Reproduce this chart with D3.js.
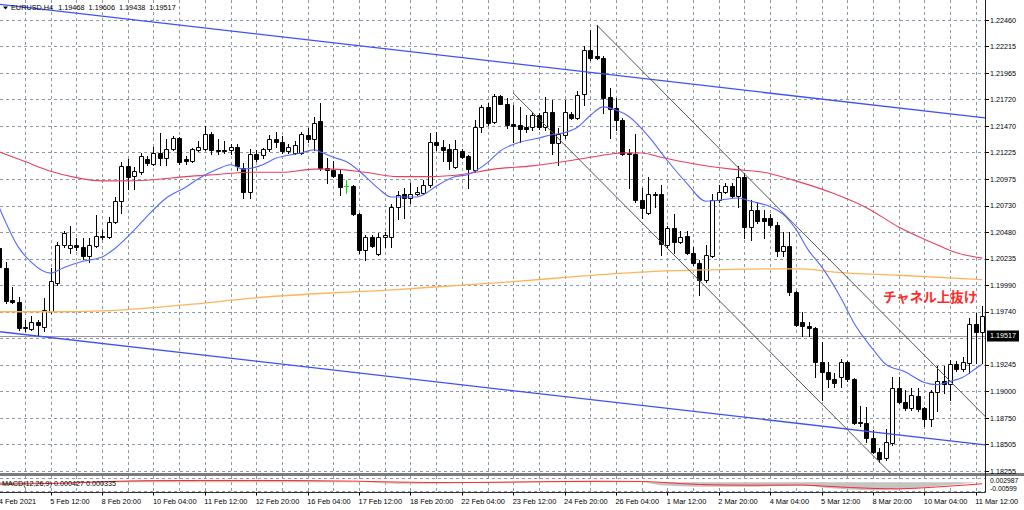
<!DOCTYPE html>
<html>
<head>
<meta charset="utf-8">
<script src="https://cdn.jsdelivr.net/npm/d3@7/dist/d3.min.js"></script>
<style>
html,body{margin:0;padding:0;background:#fff;}
svg{display:block;}
</style>
</head>
<body>
<svg id="chart" width="1024" height="510"></svg>
<script>
// ---------------- DATA ----------------
const symbolTitle = "EURUSD,H4";
const lastBar = [1.19468, 1.19606, 1.19438, 1.19517]; // O H L C shown in header
const bidPrice = 1.19517;
const macdTitle = "MACD(12,26,9) 0.000427 0.000335";
const noteText = "チャネル上抜け";

const timeLabels = ["4 Feb 2021","5 Feb 12:00","8 Feb 20:00","10 Feb 04:00","11 Feb 12:00","12 Feb 20:00",
  "16 Feb 04:00","17 Feb 12:00","18 Feb 20:00","22 Feb 04:00","23 Feb 12:00","24 Feb 20:00","26 Feb 04:00",
  "1 Mar 12:00","2 Mar 20:00","4 Mar 04:00","5 Mar 12:00","8 Mar 20:00","10 Mar 04:00","11 Mar 12:00"];
const barsPerLabel = 8;

const priceTicks = [1.22460,1.22215,1.21965,1.21720,1.21470,1.21225,1.20975,1.20730,1.20480,1.20235,
  1.19990,1.19740,1.19245,1.19000,1.18750,1.18505,1.18255];
const hiddenGridPrices = [1.19495];
const macdTicks = [0.002987, -0.00599];

const opens = [1.2033,1.2015,1.1985,1.1983,1.1960,1.1958,1.1964,1.1960,1.1975,1.2001,
1.2036,1.2033,1.2036,1.2034,1.2026,1.2035,1.2045,1.2044,1.2058,1.2077,
1.2110,1.2101,1.2104,1.2116,1.2112,1.2122,1.2117,1.2126,1.2136,1.2116,
1.2115,1.2125,1.2126,1.2140,1.2125,1.2125,1.2125,1.2128,1.2108,1.2086,
1.2121,1.2120,1.2126,1.2135,1.2132,1.2124,1.2122,1.2122,1.2139,1.2135,
1.2152,1.2108,1.2106,1.2102,1.2091,1.2091,1.2065,1.2032,1.2044,1.2028,
1.2044,1.2044,1.2072,1.2084,1.2080,1.2084,1.2085,1.2092,1.2132,1.2128,
1.2126,1.2109,1.2124,1.2119,1.2106,1.2146,1.2165,1.2151,1.2175,1.2168,
1.2149,1.2148,1.2146,1.2146,1.2157,1.2146,1.2160,1.2131,1.2139,1.2158,
1.2155,1.2177,1.2218,1.2212,1.2211,1.2174,1.2164,1.2153,1.2122,1.2121,
1.2078,1.2066,1.2084,1.2084,1.2036,1.2052,1.2039,1.2045,1.2029,1.2019,
1.2004,1.2026,1.2078,1.2086,1.2091,1.2082,1.2100,1.2053,1.2069,1.2061,
1.2061,1.2055,1.2031,1.2035,1.1992,1.1964,1.1961,1.1959,1.1927,1.1918,
1.1911,1.1913,1.1927,1.1911,1.1871,1.1870,1.1856,1.1843,1.1838,1.1852,
1.1903,1.1890,1.1884,1.1895,1.1884,1.1874,1.1899,1.1909,1.1907,1.1925,
1.1921,1.1926,1.1963,1.1955];
const highs = [1.2041,1.2020,1.1997,1.1988,1.1966,1.1970,1.1966,1.1987,1.2015,1.2039,
1.2049,1.2054,1.2043,1.2043,1.2043,1.2064,1.2050,1.2062,1.2081,1.2114,
1.2116,1.2109,1.2122,1.2119,1.2128,1.2141,1.2135,1.2138,1.2137,1.2119,
1.2127,1.2133,1.2147,1.2142,1.2135,1.2133,1.2130,1.2130,1.2113,1.2126,
1.2125,1.2127,1.2139,1.2142,1.2138,1.2130,1.2133,1.2142,1.2145,1.2156,
1.2169,1.2117,1.2115,1.2106,1.2097,1.2092,1.2066,1.2046,1.2046,1.2047,
1.2048,1.2074,1.2087,1.2089,1.2094,1.2090,1.2097,1.2141,1.2142,1.2134,
1.2130,1.2134,1.2126,1.2120,1.2153,1.2167,1.2169,1.2177,1.2176,1.2173,
1.2167,1.2165,1.2157,1.2159,1.2159,1.2174,1.2171,1.2145,1.2171,1.2160,
1.2180,1.2222,1.2237,1.2241,1.2212,1.2183,1.2173,1.2155,1.2126,1.2140,
1.2089,1.2100,1.2086,1.2092,1.2054,1.2065,1.2049,1.2049,1.2034,1.2022,
1.2036,1.2084,1.2092,1.2094,1.2094,1.2110,1.2103,1.2078,1.2076,1.2069,
1.2065,1.2058,1.2048,1.2048,1.1993,1.1974,1.1964,1.1960,1.1946,1.1927,
1.1917,1.1930,1.1928,1.1912,1.1886,1.1885,1.1864,1.1847,1.1865,1.1913,
1.1913,1.1901,1.1903,1.1903,1.1885,1.1901,1.1923,1.1923,1.1929,1.1928,
1.1932,1.1968,1.1973,1.1979];
const lows = [1.2014,1.1982,1.1982,1.1957,1.1956,1.1957,1.1951,1.1956,1.1973,1.1999,
1.2034,1.2029,1.2032,1.2023,1.2020,1.2034,1.2042,1.2043,1.2057,1.2066,
1.2088,1.2088,1.2102,1.2111,1.2111,1.2111,1.2111,1.2125,1.2112,1.2112,
1.2114,1.2124,1.2125,1.2121,1.2121,1.2122,1.2121,1.2106,1.2080,1.2080,
1.2115,1.2117,1.2124,1.2128,1.2122,1.2122,1.2121,1.2121,1.2132,1.2125,
1.2106,1.2094,1.2100,1.2083,1.2085,1.2064,1.2029,1.2022,1.2034,1.2027,
1.2034,1.2034,1.2060,1.2061,1.2075,1.2083,1.2084,1.2090,1.2125,1.2115,
1.2107,1.2108,1.2117,1.2089,1.2104,1.2142,1.2148,1.2150,1.2168,1.2145,
1.2132,1.2132,1.2142,1.2143,1.2144,1.2143,1.2121,1.2111,1.2136,1.2154,
1.2154,1.2167,1.2209,1.2210,1.2159,1.2136,1.2143,1.2120,1.2089,1.2076,
1.2061,1.2065,1.2072,1.2027,1.2034,1.2029,1.2038,1.2028,1.2018,1.1990,
1.2002,1.2025,1.2076,1.2085,1.2081,1.2072,1.2043,1.2041,1.2057,1.2043,
1.2053,1.2026,1.2026,1.1990,1.1961,1.1951,1.1951,1.1913,1.1892,1.1904,
1.1904,1.1904,1.1909,1.1869,1.1867,1.1853,1.1842,1.1834,1.1836,1.1850,
1.1889,1.1882,1.1882,1.1881,1.1867,1.1867,1.1881,1.1898,1.1892,1.1919,
1.1919,1.1917,1.1926,1.1926];
const closes = [1.2016,1.1984,1.1983,1.1959,1.1959,1.1964,1.1962,1.1976,1.2003,1.2036,
1.2047,1.2036,1.2034,1.2026,1.2036,1.2045,1.2044,1.2058,1.2077,1.2110,
1.2100,1.2105,1.2119,1.2113,1.2122,1.2117,1.2126,1.2136,1.2114,1.2115,
1.2126,1.2128,1.2140,1.2125,1.2124,1.2124,1.2128,1.2110,1.2086,1.2121,
1.2116,1.2126,1.2135,1.2132,1.2124,1.2128,1.2129,1.2140,1.2135,1.2150,
1.2108,1.2106,1.2101,1.2090,1.2091,1.2065,1.2032,1.2044,1.2035,1.2044,
1.2046,1.2072,1.2083,1.2080,1.2084,1.2086,1.2092,1.2132,1.2129,1.2125,
1.2115,1.2126,1.2118,1.2107,1.2146,1.2165,1.2150,1.2175,1.2168,1.2148,
1.2147,1.2144,1.2144,1.2157,1.2146,1.2160,1.2131,1.2140,1.2160,1.2155,
1.2176,1.2218,1.2211,1.2211,1.2173,1.2163,1.2153,1.2121,1.2121,1.2078,
1.2071,1.2084,1.2083,1.2037,1.2052,1.2039,1.2044,1.2029,1.2019,1.2004,
1.2027,1.2078,1.2086,1.2091,1.2082,1.2100,1.2053,1.2069,1.2059,1.2059,
1.2055,1.2031,1.2035,1.1992,1.1962,1.1961,1.1959,1.1927,1.1918,1.1911,
1.1908,1.1927,1.1911,1.1870,1.1870,1.1856,1.1843,1.1837,1.1853,1.1903,
1.1890,1.1884,1.1896,1.1883,1.1874,1.1899,1.1909,1.1907,1.1925,1.1921,
1.1927,1.1963,1.1955,1.1970];

// moving averages (bar index, price)
const maFastBars = [0,3,5,8,10,13,16,18,21,23,26,29,31,34,36,38,41,43,47,49,50,52,54,57,59,61,65,66,68,71,73,76,78,80,84,86,88,90,92,94,96,98,101,104,107,110,112,115,117,120,122,124,126,128,131,133,136,138,141,144,146,148,150,152,153];
const maFastVals = [1.2071,1.2034,1.2020,1.2010,1.2015,1.2021,1.2025,1.2033,1.2050,1.2063,1.2080,1.2090,1.2098,1.2107,1.2111,1.2107,1.2111,1.2117,1.2122,1.2125,1.2123,1.2118,1.2114,1.2100,1.2089,1.2081,1.2081,1.2083,1.2091,1.2100,1.2102,1.2113,1.2124,1.2130,1.2136,1.2139,1.2141,1.2146,1.2157,1.2165,1.2162,1.2156,1.2138,1.2115,1.2094,1.2077,1.2078,1.2080,1.2077,1.2072,1.2065,1.2051,1.2031,1.2016,1.1987,1.1964,1.1939,1.1925,1.1918,1.1908,1.1906,1.1909,1.1913,1.1921,1.1925];
const maMidBars = [0,4,8,12,16,20,24,29,34,39,44,49,52,57,62,67,72,77,83,88,93,97,100,103,108,114,119,124,130,135,140,145,149,153];
const maMidVals = [1.2123,1.2114,1.2105,1.2099,1.2096,1.2096,1.2097,1.2100,1.2102,1.2104,1.2104,1.2107,1.2107,1.2104,1.2100,1.2100,1.2102,1.2107,1.2110,1.2114,1.2119,1.2122,1.2122,1.2118,1.2112,1.2107,1.2104,1.2096,1.2084,1.2071,1.2053,1.2039,1.2029,1.2024];
const maSlowBars = [0,10,20,30,40,50,60,70,80,90,100,110,120,125,130,140,153];
const maSlowVals = [1.1974,1.1974,1.1976,1.1981,1.1987,1.1991,1.1994,1.1998,1.2002,1.2007,1.2011,1.2013,1.2014,1.2014,1.2011,1.2008,1.2004];

// trend lines: [bar, price] anchor pairs
const blueUpperLine = [[0,1.22606],[153,1.21550]];
const blueLowerLine = [[0,1.19554],[153,1.18502]];
const chanUpperLine = [[93,1.22413],[153,1.18792]];
const chanLowerLine = [[80,1.21779],[137,1.18340]];

// MACD (sparse readings)
const macdBars   = [0,8,16,23,31,39,47,55,62,70,78,86,94,100,103,109,117,125,129,136,140,145,150,153];
const macdHist   = [-0.0020,-0.0002,0.0010,0.0015,0.0016,0.0015,0.0012,0.0004,-0.0010,-0.0006,0.0005,0.0010,0.0011,0.0000,-0.0020,-0.0030,-0.0030,-0.0022,-0.0040,-0.0055,-0.0050,-0.0030,-0.0010,0.0004];
const macdSignal = [-0.0012,-0.0008,0.0003,0.0011,0.0013,0.0013,0.0012,0.0008,0.0002,-0.0002,0.0000,0.0005,0.0007,0.0006,0.0000,-0.0015,-0.0020,-0.0019,-0.0028,-0.0042,-0.0045,-0.0035,-0.0020,-0.0010];

// ---------------- DRAW ----------------
const FONT = "'Liberation Sans', Arial, sans-serif";
const svg = d3.select("#chart");
const plotRight = 985, mainBottom = 473, macdTop = 476, macdBottom = 492.5;
const n = opens.length;
const x = d3.scaleLinear().domain([0, 152]).range([-0.7, 975.7]);
const y = d3.scaleLinear().domain([1.18255, 1.22460]).range([471, 20]);
const ym = d3.scaleLinear().domain([-0.00599, 0.002987]).range([491, 478]);
const px = v => Math.round(v) + 0.5;

svg.append("rect").attr("width",1024).attr("height",510).attr("fill","#fff");
const defs = svg.append("defs");
defs.append("clipPath").attr("id","clipMain").append("rect")
  .attr("x",0).attr("y",0).attr("width",plotRight).attr("height",mainBottom);
defs.append("clipPath").attr("id","clipMacd").append("rect")
  .attr("x",0).attr("y",macdTop).attr("width",plotRight).attr("height",macdBottom-macdTop);

// grid
const gridColor = "#8d99a6";
const grid = svg.append("g").attr("stroke", gridColor).attr("stroke-width",1).attr("stroke-dasharray","3,3");
const vBars = d3.range(4, n, 4);
grid.selectAll("line.v").data(vBars).join("line").attr("class","v")
  .attr("x1",d=>px(x(d))).attr("x2",d=>px(x(d))).attr("y1",0).attr("y2",mainBottom);
grid.selectAll("line.vm").data(vBars).join("line").attr("class","vm")
  .attr("x1",d=>px(x(d))).attr("x2",d=>px(x(d))).attr("y1",macdTop).attr("y2",macdBottom);
grid.selectAll("line.h").data(priceTicks.concat(hiddenGridPrices)).join("line").attr("class","h")
  .attr("x1",0).attr("x2",plotRight).attr("y1",d=>px(y(d))).attr("y2",d=>px(y(d)));
grid.selectAll("line.hm").data(macdTicks).join("line").attr("class","hm")
  .attr("x1",0).attr("x2",plotRight).attr("y1",d=>px(ym(d))).attr("y2",d=>px(ym(d)));

// bid line
svg.append("line").attr("x1",0).attr("x2",plotRight)
  .attr("y1",px(y(bidPrice))).attr("y2",px(y(bidPrice)))
  .attr("stroke","#9a9a9a").attr("stroke-width",1);

// candles
const cg = svg.append("g").attr("clip-path","url(#clipMain)");
const idx = d3.range(n);
cg.selectAll("line.wick").data(idx).join("line").attr("class","wick")
  .attr("x1",i=>px(x(i))).attr("x2",i=>px(x(i)))
  .attr("y1",i=>Math.round(y(highs[i]))).attr("y2",i=>Math.round(y(lows[i]))+1)
  .attr("stroke",i=>opens[i]===closes[i] ? "#00e000" : "#000").attr("stroke-width",1);
cg.selectAll("path.body").data(idx).join("path").attr("class","body")
  .attr("d", i => {
    const c = Math.round(x(i));
    const top = Math.round(y(Math.max(opens[i],closes[i]))) + 0.5;
    const bot = Math.round(y(Math.min(opens[i],closes[i]))) + 0.5;
    if (opens[i] === closes[i]) return `M${c-2},${top}H${c+3}`;
    return `M${c-1.5},${top}H${c+2.5}V${bot}H${c-1.5}Z`;
  })
  .attr("fill", i => closes[i] > opens[i] ? "#fff" : (closes[i] < opens[i] ? "#000" : "none"))
  .attr("stroke", i => opens[i]===closes[i] ? "#00e000" : "#000").attr("stroke-width",1);

// moving averages
const lineGen = d3.line().x(d=>x(d[0])).y(d=>y(d[1])).curve(d3.curveMonotoneX);
const ma = svg.append("g").attr("clip-path","url(#clipMain)").attr("fill","none");
ma.append("path").attr("d", lineGen(maSlowBars.map((b,k)=>[b,maSlowVals[k]])))
  .attr("stroke","#ffb45a").attr("stroke-width",1.3);
ma.append("path").attr("d", lineGen(maMidBars.map((b,k)=>[b,maMidVals[k]])))
  .attr("stroke","#e8405e").attr("stroke-width",1.1);
ma.append("path").attr("d", lineGen(maFastBars.map((b,k)=>[b,maFastVals[k]])))
  .attr("stroke","#5468ff").attr("stroke-width",1.1);

// trend lines (rays extended across the plot)
function extend(line, b0, b1) {
  const [[xa,pa],[xb,pb]] = line;
  const s = (pb-pa)/(xb-xa);
  return [[b0, pa + s*(b0-xa)], [b1, pa + s*(b1-xa)]];
}
const tl = svg.append("g").attr("clip-path","url(#clipMain)").attr("fill","none");
const straight = d3.line().x(d=>x(d[0])).y(d=>y(d[1]));
tl.append("path").attr("d", straight(extend(blueUpperLine,-2,156))).attr("stroke","#3f51f5").attr("stroke-width",1.3);
tl.append("path").attr("d", straight(extend(blueLowerLine,-2,156))).attr("stroke","#3f51f5").attr("stroke-width",1.3);
tl.append("path").attr("d", straight(extend(chanUpperLine,chanUpperLine[0][0],160))).attr("stroke","#555").attr("stroke-width",1);
tl.append("path").attr("d", straight(extend(chanLowerLine,chanLowerLine[0][0],165))).attr("stroke","#555").attr("stroke-width",1);

// separator and frames
svg.append("rect").attr("x",0).attr("y",473).attr("width",1024).attr("height",3).attr("fill","#7c7c7c");
svg.append("line").attr("x1",0).attr("x2",plotRight+0.5).attr("y1",macdBottom).attr("y2",macdBottom).attr("stroke","#333");
svg.append("line").attr("x1",plotRight+0.5).attr("x2",plotRight+0.5).attr("y1",0).attr("y2",macdBottom).attr("stroke","#222");

// MACD
const mg = svg.append("g").attr("clip-path","url(#clipMacd)");
const macdPts = macdBars.map((b,k)=>[b, macdHist[k]]);
mg.append("path").attr("d", d3.area().x(d=>x(d[0])).y0(ym(0)).y1(d=>ym(d[1])).curve(d3.curveMonotoneX)(macdPts))
  .attr("fill","#c4c4c4");
mg.append("path").attr("d", d3.line().x(d=>x(d[0])).y(d=>ym(d[1])).curve(d3.curveMonotoneX)(macdBars.map((b,k)=>[b,macdSignal[k]])))
  .attr("fill","none").attr("stroke","#ff2a2a").attr("stroke-width",1);

// price axis labels
const ax = svg.append("g").attr("font-family",FONT).attr("font-size","7.2px").attr("fill","#000");
ax.selectAll("line.tk").data(priceTicks).join("line").attr("class","tk")
  .attr("x1",plotRight+1).attr("x2",plotRight+4).attr("y1",d=>px(y(d))).attr("y2",d=>px(y(d))).attr("stroke","#000");
ax.selectAll("text.pl").data(priceTicks).join("text").attr("class","pl")
  .attr("x",990).attr("y",d=>y(d)+2.6).text(d=>d.toFixed(5));
ax.selectAll("text.ml").data(macdTicks).join("text").attr("class","ml")
  .attr("x",990).attr("y",(d,k)=>k===0 ? 482.5 : 491).attr("font-size","6.8px")
  .text(d=>d>0 ? d.toFixed(6) : d.toFixed(5));

// bid label
const by = y(bidPrice);
svg.append("rect").attr("x",987).attr("y",Math.round(by)-5.5).attr("width",32).attr("height",11).attr("fill","#000");
svg.append("text").attr("x",990).attr("y",by+2.6).attr("font-family",FONT).attr("font-size","7.2px")
  .attr("fill","#fff").text(bidPrice.toFixed(5));

// time axis
const tg = svg.append("g").attr("font-family",FONT).attr("font-size","7.4px").attr("fill","#000");
tg.selectAll("line").data(timeLabels).join("line")
  .attr("x1",(d,k)=>px(x(k*barsPerLabel))).attr("x2",(d,k)=>px(x(k*barsPerLabel)))
  .attr("y1",macdBottom).attr("y2",macdBottom+3).attr("stroke","#000");
tg.selectAll("text").data(timeLabels).join("text")
  .attr("x",(d,k)=>x(k*barsPerLabel)-0.5).attr("y",504).text(d=>d);

// header
const hg = svg.append("g").attr("font-family",FONT).attr("font-size","7.3px").attr("fill","#000");
hg.append("path").attr("d","M3,6.5H8L5.5,9.5Z").attr("fill","#000");
let hx = 11;
const t0 = hg.append("text").attr("x",hx).attr("y",10).text(symbolTitle);
hx += t0.node().getComputedTextLength() + 5;
lastBar.forEach(v => {
  const t = hg.append("text").attr("x",hx).attr("y",10).text(v.toFixed(5));
  hx += t.node().getComputedTextLength() + 4;
});

// MACD title
svg.append("text").attr("x",2).attr("y",486).attr("font-family",FONT).attr("font-size","7.2px")
  .attr("fill","#000").text(macdTitle);

// annotation
svg.append("text").attr("x",883).attr("y",302).attr("font-family","'Noto Sans CJK JP', sans-serif")
  .attr("font-weight","bold").attr("font-size","13.5px").attr("fill","#ff2b2b").text(noteText);
</script>
</body>
</html>
